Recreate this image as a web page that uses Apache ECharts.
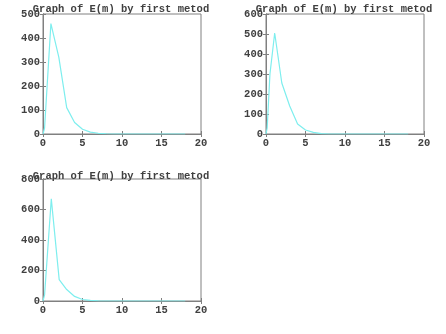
<!DOCTYPE html>
<html><head><meta charset="utf-8">
<script src="https://cdn.jsdelivr.net/npm/echarts@6/dist/echarts.min.js"></script>
<style>html,body{margin:0;padding:0;background:#fff}#c{width:446px;height:334px}</style>
</head><body><div id="c"></div>
<script>
const titleText = "Graph of E(m) by first metod";
const xTicks = [0, 5, 10, 15, 20];
const x1 = [0, 0.2, 1, 2, 3, 4, 5, 6, 7, 8, 9, 10, 11, 12, 13, 14, 15, 16, 17, 18];
const y1 = [0, 25, 460, 320, 110, 48, 20, 8, 3, 1, 0, 0, 0, 0, 0, 0, 0, 0, 0, 0];
const x2 = [0, 0.15, 0.5, 1.1, 2, 3, 4, 5, 6, 7, 8, 9, 10, 11, 12, 13, 14, 15, 16, 17, 18];
const y2 = [0, 30, 300, 505, 255, 140, 50, 20, 8, 2, 0, 0, 0, 0, 0, 0, 0, 0, 0, 0, 0];
const x3 = [0, 0.2, 1.05, 2.05, 3, 4, 5, 6, 7, 8, 9, 10, 11, 12, 13, 14, 15, 16, 17, 18];
const y3 = [0, 40, 670, 140, 75, 30, 10, 4, 1, 0, 0, 0, 0, 0, 0, 0, 0, 0, 0, 0];
const yMax = [500, 600, 800];
const yStep = [100, 100, 200];

const zip = (xs, ys) => xs.map((x, i) => [x, ys[i]]);
const series = [zip(x1, y1), zip(x2, y2), zip(x3, y3)];

const FONT = "'Liberation Mono', 'DejaVu Sans Mono', monospace";
const AXC = '#808080';
const TXC = '#404040';
const grids = [
  {left: 43, top: 14, width: 158, height: 120},
  {left: 266, top: 14, width: 158, height: 120},
  {left: 43, top: 179, width: 158, height: 122}
];
const titleTops = [4, 4, 171];

const option = {
  animation: false,
  backgroundColor: '#fff',
  title: grids.map((g, i) => ({
    text: titleText, left: g.left + g.width / 2 - 1, top: titleTops[i], padding: 0,
    textAlign: 'center',
    textStyle: {fontFamily: FONT, fontSize: 10.5, fontWeight: 'bold', color: TXC}
  })),
  grid: grids.map(g => Object.assign({show: true, borderColor: AXC, borderWidth: 1, backgroundColor: 'transparent'}, g)),
  xAxis: [],
  yAxis: [],
  series: []
};

grids.forEach((g, i) => {
  option.xAxis.push({
    type: 'value', gridIndex: i, min: xTicks[0], max: xTicks[xTicks.length - 1], interval: 5,
    axisLine: {show: true, lineStyle: {color: AXC}},
    axisTick: {show: true, inside: true, length: 3, lineStyle: {color: AXC}},
    axisLabel: {margin: 4, fontFamily: FONT, fontSize: 10.5, fontWeight: 'bold', color: TXC},
    splitLine: {show: false}
  });
  option.xAxis.push({
    type: 'value', gridIndex: i, position: 'top', min: xTicks[0], max: xTicks[xTicks.length - 1], interval: 5,
    axisLine: {show: true, lineStyle: {color: AXC}},
    axisTick: {show: true, inside: true, length: 3, lineStyle: {color: AXC}},
    axisLabel: {show: false}, splitLine: {show: false}
  });
  option.yAxis.push({
    type: 'value', gridIndex: i, min: 0, max: yMax[i], interval: yStep[i],
    axisLine: {show: true, lineStyle: {color: AXC}},
    axisTick: {show: true, inside: true, length: 3, lineStyle: {color: AXC}},
    axisLabel: {margin: 3, fontFamily: FONT, fontSize: 10.5, fontWeight: 'bold', color: TXC},
    splitLine: {show: false}
  });
  option.yAxis.push({
    type: 'value', gridIndex: i, position: 'right', min: 0, max: yMax[i], interval: yStep[i],
    axisLine: {show: true, lineStyle: {color: AXC}},
    axisTick: {show: true, inside: true, length: 3, lineStyle: {color: AXC}},
    axisLabel: {show: false}, splitLine: {show: false}
  });
  option.series.push({
    type: 'line', xAxisIndex: i * 2, yAxisIndex: i * 2, data: series[i],
    showSymbol: false, symbol: 'none',
    lineStyle: {color: '#7eeeee', width: 1.2}
  });
});

const chart = echarts.init(document.getElementById('c'), null, {renderer: 'canvas'});
chart.setOption(option);
</script></body></html>
